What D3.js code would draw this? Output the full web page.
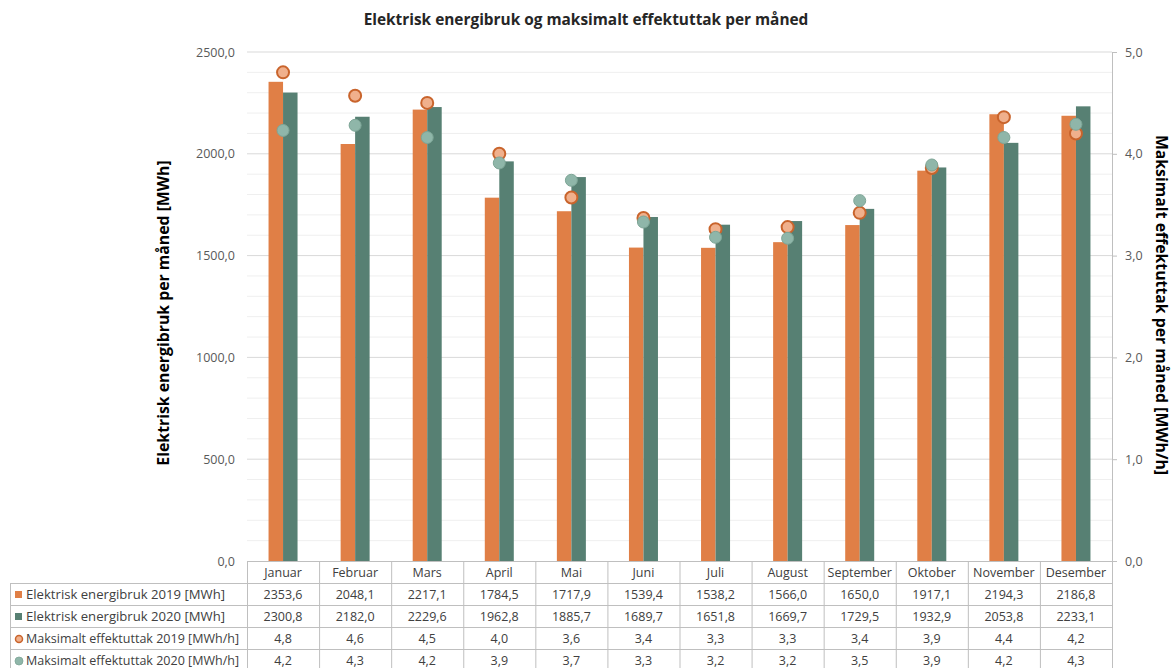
<!DOCTYPE html>
<html><head><meta charset="utf-8">
<script src="https://cdn.jsdelivr.net/npm/d3@7"></script>
<style>
body{margin:0;background:#fff;}
text{font-family:"Open Sans","Noto Sans",sans-serif;}
</style></head>
<body><svg id="c" width="1172" height="668"></svg>
<script>
const months = ["Januar","Februar","Mars","April","Mai","Juni","Juli","August","September","Oktober","November","Desember"];
const energy2019 = [2353.6,2048.1,2217.1,1784.5,1717.9,1539.4,1538.2,1566.0,1650.0,1917.1,2194.3,2186.8];
const energy2020 = [2300.8,2182.0,2229.6,1962.8,1885.7,1689.7,1651.8,1669.7,1729.5,1932.9,2053.8,2233.1];
const peak2019 = [4.80,4.57,4.50,4.00,3.57,3.37,3.26,3.28,3.42,3.86,4.36,4.20];
const peak2020 = [4.23,4.28,4.16,3.91,3.74,3.33,3.18,3.17,3.54,3.89,4.16,4.29];
const leftTicks = [0,500,1000,1500,2000,2500];
const rightTicks = [0,1,2,3,4,5];
const seriesNames = ["Elektrisk energibruk 2019 [MWh]","Elektrisk energibruk 2020 [MWh]","Maksimalt effektuttak 2019 [MWh/h]","Maksimalt effektuttak 2020 [MWh/h]"];

const C19="#e07f46", C20="#578073", P19F="#f0b08c", P19S="#c9642c", P20F="#8fb6a9", P20S="#7da596";
const svg=d3.select("#c");
const L=247,R=1112,T=52,B=561;
const x=d3.scaleBand().domain(months).range([L,R]);
const y=d3.scaleLinear().domain([0,2500]).range([B,T]);
const y2=d3.scaleLinear().domain([0,5]).range([B,T]);
const fmt=v=>d3.format(".1f")(v).replace(".",",");

// minor grid
svg.append("g").selectAll("line").data(d3.range(100,2501,100).filter(v=>v%500!==0)).join("line")
 .attr("x1",L).attr("x2",R).attr("y1",d=>y(d)).attr("y2",d=>y(d)).attr("stroke","#efefef").attr("stroke-width",1);
svg.append("g").selectAll("line").data(leftTicks.filter(v=>v>0)).join("line")
 .attr("x1",L).attr("x2",R).attr("y1",d=>y(d)).attr("y2",d=>y(d)).attr("stroke","#d9d9d9").attr("stroke-width",1);

// left axis labels
const ax=svg.append("g").attr("transform",`translate(${L},0)`).call(d3.axisLeft(y).tickValues(leftTicks).tickFormat(fmt).tickSize(0).tickPadding(12));
ax.select(".domain").remove();
ax.selectAll("text").attr("font-size",12.5).attr("fill","#595959");
// right axis
const ax2=svg.append("g").attr("transform",`translate(${R},0)`).call(d3.axisRight(y2).tickValues(rightTicks).tickFormat(fmt).tickSize(5).tickSizeOuter(0).tickPadding(8));
ax2.select(".domain").attr("stroke","#bfbfbf");
ax2.selectAll(".tick line").attr("stroke","#bfbfbf");
ax2.selectAll("text").attr("font-size",12.5).attr("fill","#595959");

// bars
const bw=14.5;
svg.append("g").selectAll("rect").data(months).join("rect")
 .attr("x",d=>x(d)+x.bandwidth()/2-bw).attr("width",bw)
 .attr("y",(d,i)=>y(energy2019[i])).attr("height",(d,i)=>B-y(energy2019[i])).attr("fill",C19);
svg.append("g").selectAll("rect").data(months).join("rect")
 .attr("x",d=>x(d)+x.bandwidth()/2).attr("width",bw)
 .attr("y",(d,i)=>y(energy2020[i])).attr("height",(d,i)=>B-y(energy2020[i])).attr("fill",C20);
// points
svg.append("g").selectAll("circle").data(months).join("circle")
 .attr("cx",d=>x(d)+x.bandwidth()/2).attr("cy",(d,i)=>y2(peak2019[i])).attr("r",6)
 .attr("fill",P19F).attr("stroke",P19S).attr("stroke-width",2);
svg.append("g").selectAll("circle").data(months).join("circle")
 .attr("cx",d=>x(d)+x.bandwidth()/2).attr("cy",(d,i)=>y2(peak2020[i])).attr("r",6)
 .attr("fill",P20F).attr("stroke",P20S).attr("stroke-width",1);

// titles
svg.append("text").attr("x",586).attr("y",25).attr("text-anchor","middle").attr("font-size",15.4).attr("font-weight","bold").attr("fill","#262626")
 .text("Elektrisk energibruk og maksimalt effektuttak per måned");
svg.append("text").attr("transform",`translate(169,313) rotate(-90)`).attr("text-anchor","middle").attr("font-size",15.8).attr("font-weight","bold").attr("fill","#000")
 .text("Elektrisk energibruk per måned [MWh]");
svg.append("text").attr("transform",`translate(1156,305) rotate(90)`).attr("text-anchor","middle").attr("font-size",15.8).attr("font-weight","bold").attr("fill","#000")
 .text("Maksimalt effektuttak per måned [MWh/h]");

// data table
const rowY=[561,583,605,627,649,671];
const tb=svg.append("g");
const lc="#bfbfbf";
tb.append("line").attr("x1",L).attr("x2",R).attr("y1",rowY[0]+.5).attr("y2",rowY[0]+.5).attr("stroke",lc);
for(let r=1;r<rowY.length;r++) tb.append("line").attr("x1",10).attr("x2",R).attr("y1",rowY[r]+.5).attr("y2",rowY[r]+.5).attr("stroke",lc);
tb.selectAll(".vl").data(months.concat(["end"])).join("line")
 .attr("x1",(d,i)=>(i<12?x(d):R)+.5).attr("x2",(d,i)=>(i<12?x(d):R)+.5).attr("y1",rowY[0]).attr("y2",668).attr("stroke",lc);
tb.append("line").attr("x1",10.5).attr("x2",10.5).attr("y1",rowY[1]).attr("y2",668).attr("stroke",lc);
tb.selectAll(".hd").data(months).join("text").attr("x",d=>x(d)+x.bandwidth()/2).attr("y",(rowY[0]+rowY[1])/2+4.5)
 .attr("text-anchor","middle").attr("font-size",12.5).attr("fill","#404040").text(d=>d);
const rows=[energy2019,energy2020,peak2019,peak2020];
rows.forEach((arr,r)=>{
  const cy=(rowY[r+1]+rowY[r+2])/2;
  tb.append("g").selectAll("text").data(arr).join("text").attr("x",(d,i)=>x(months[i])+x.bandwidth()/2).attr("y",cy+4.5)
   .attr("text-anchor","middle").attr("font-size",12.5).attr("fill","#404040").text(d=>fmt(d));
  tb.append("text").attr("x",26).attr("y",cy+4.5).attr("font-size",12.8).attr("fill","#404040")
   .attr("textLength",r<2?199:213).attr("lengthAdjust","spacingAndGlyphs").text(seriesNames[r]);
  if(r<2) tb.append("rect").attr("x",15).attr("y",cy-3).attr("width",7).attr("height",7).attr("fill",r==0?C19:C20);
  else tb.append("circle").attr("cx",19).attr("cy",cy+1).attr("r",r==2?3.5:4).attr("fill",r==2?P19F:P20F).attr("stroke",r==2?P19S:P20S).attr("stroke-width",r==2?1.5:0.8);
});
</script></body></html>
